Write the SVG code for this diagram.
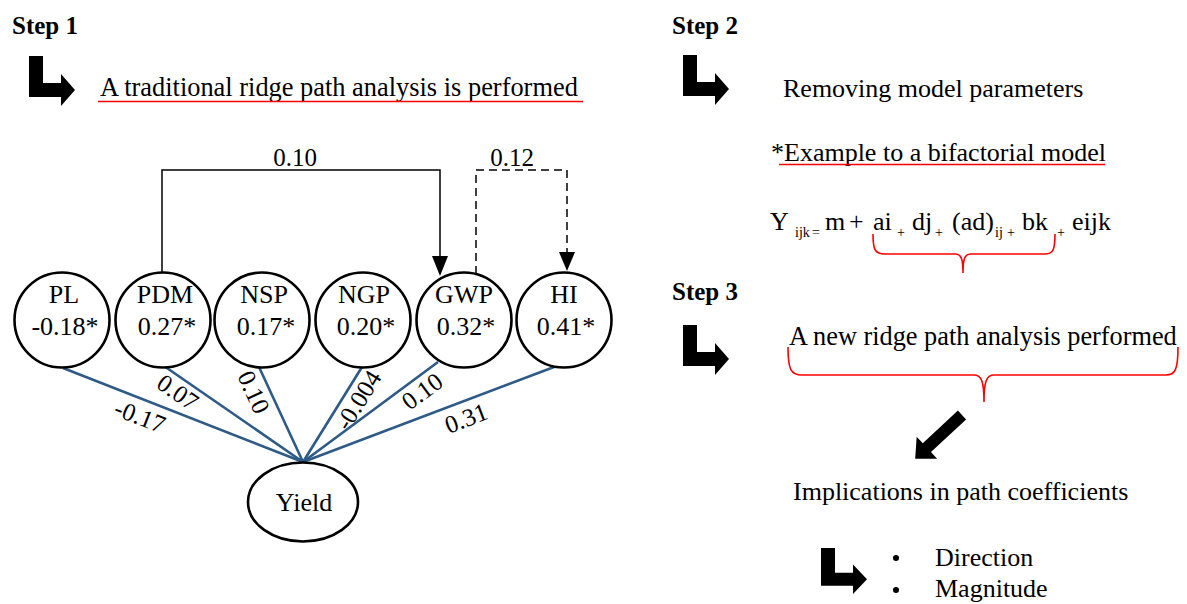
<svg xmlns="http://www.w3.org/2000/svg" width="1187" height="604" viewBox="0 0 1187 604">
<style>
text{font-family:'Liberation Serif','Times New Roman',serif;fill:#000}
.t{font-size:26px}
.step{font-size:25px;font-weight:bold}
.node{fill:#fff;stroke:#000;stroke-width:2.6}
.nt{font-size:26px;text-anchor:middle}
.el{font-size:25px;text-anchor:middle}
.blue{stroke:#2D5A87;stroke-width:2.6;fill:none}
.red{stroke:#FF0000;stroke-width:1.6;fill:none}
.sub{font-size:14px}
.big{fill:#000}
</style>
<defs>
<path id="bent" d="M0,0 H14 V27 H32 V18 L46,34 L32,50 V41 H0 Z"/>
</defs>
<g font-family="Liberation Serif, serif">
<text class="step" x="12" y="34">Step 1</text>
<use href="#bent" class="big" transform="translate(29,56)"/>
<text class="t" x="100" y="96" style="font-size:26.4px">A traditional ridge path analysis is performed</text>
<line class="red" x1="98" y1="101.5" x2="583" y2="101.5"/>

<text class="step" x="672" y="34">Step 2</text>
<use href="#bent" class="big" transform="translate(683,55)"/>
<text class="t" x="783" y="97">Removing model parameters</text>
<text class="t" x="771" y="161">*Example to a bifactorial model</text>
<line class="red" x1="779" y1="164.5" x2="1105" y2="164.5"/>

<g id="equation">
<text class="t" x="770" y="230">Y</text>
<text class="sub" x="795" y="237">ijk</text>
<text class="sub" x="812" y="237">=</text>
<text class="t" x="825" y="230">m</text>
<text class="t" x="849" y="230">+</text>
<text class="t" x="873" y="230">ai</text>
<text class="sub" x="897" y="237">+</text>
<text class="t" x="912" y="230">dj</text>
<text class="sub" x="935" y="237">+</text>
<text class="t" x="952" y="230">(ad)</text>
<text class="sub" x="995" y="237">ij</text>
<text class="sub" x="1007" y="237">+</text>
<text class="t" x="1022" y="230">bk</text>
<text class="sub" x="1057" y="237">+</text>
<text class="t" x="1072" y="230">eijk</text>
<path class="red" d="M873,234 C873,250 875,254 885,254 H955 C961,254 963,258 963,273 C963,258 965,254 971,254 H1045 C1053,254 1055,250 1055,234"/>
</g>

<text class="step" x="672" y="300">Step 3</text>
<use href="#bent" class="big" transform="translate(683,325)"/>
<text class="t" x="789" y="345" style="font-size:26.3px">A new ridge path analysis performed</text>
<path class="red" d="M788,347 C788,370 791,375 802,375 H974 C981,375 984,380 984,402 C984,380 987,375 994,375 H1166 C1175,375 1178,370 1178,347"/>
<path class="big" d="M0,-6 H48 V-15 L64,0 L48,15 V6 H0 Z" transform="translate(962,415) rotate(137)"/>
<text class="t" x="793" y="500">Implications in path coefficients</text>
<use href="#bent" class="big" transform="translate(821,548) scale(1,0.92)"/>
<circle cx="896" cy="558" r="3"/>
<circle cx="896" cy="590" r="3"/>
<text class="t" x="935" y="566">Direction</text>
<text class="t" x="935" y="597">Magnitude</text>

<g id="connectors">
<line class="blue" x1="63" y1="368" x2="303" y2="462"/>
<line class="blue" x1="164" y1="366" x2="303" y2="462"/>
<line class="blue" x1="259" y1="367" x2="303" y2="462"/>
<line class="blue" x1="362" y1="367" x2="303" y2="462"/>
<line class="blue" x1="438" y1="362" x2="303" y2="462"/>
<line class="blue" x1="562" y1="364" x2="303" y2="462"/>
<path d="M162,273 V170 H440 V258" fill="none" stroke="#000" stroke-width="1.5"/>
<polygon points="432,256 448,256 440,276"/>
<path d="M476,274 V170 H567 V254" fill="none" stroke="#000" stroke-width="1.5" stroke-dasharray="8,5"/>
<polygon points="559,252 575,252 567,271"/>
<text class="el" x="295" y="166">0.10</text>
<text class="el" x="512" y="166">0.12</text>
<text class="el" transform="translate(140,416) rotate(21.4)" dy="0.35em">-0.17</text>
<text class="el" transform="translate(178,392) rotate(34.6)" dy="0.35em">0.07</text>
<text class="el" transform="translate(254,392) rotate(65.2)" dy="0.35em">0.10</text>
<text class="el" transform="translate(358,400) rotate(-58.2)" dy="0.35em">-0.004</text>
<text class="el" transform="translate(422,391) rotate(-36.5)" dy="0.35em">0.10</text>
<text class="el" transform="translate(466,418) rotate(-20.7)" dy="0.35em">0.31</text>
</g>

<g id="PL"><circle class="node" cx="62" cy="320" r="47.5"/><text class="nt" x="64" y="303">PL</text><text class="nt" x="65" y="335">-0.18*</text></g>
<g id="PDM"><circle class="node" cx="163" cy="320" r="47.5"/><text class="nt" x="165" y="303">PDM</text><text class="nt" x="167" y="335">0.27*</text></g>
<g id="NSP"><circle class="node" cx="262" cy="320" r="47.5"/><text class="nt" x="264" y="303">NSP</text><text class="nt" x="266" y="335">0.17*</text></g>
<g id="NGP"><circle class="node" cx="363" cy="320" r="47.5"/><text class="nt" x="364" y="303">NGP</text><text class="nt" x="366" y="335">0.20*</text></g>
<g id="GWP"><circle class="node" cx="464" cy="320" r="47.5"/><text class="nt" x="464" y="303">GWP</text><text class="nt" x="466" y="335">0.32*</text></g>
<g id="HI"><circle class="node" cx="564" cy="320" r="47.5"/><text class="nt" x="564" y="303">HI</text><text class="nt" x="566" y="335">0.41*</text></g>
<g id="Yield"><ellipse class="node" cx="303" cy="502" rx="55" ry="39.5"/><text class="nt" x="304" y="511">Yield</text></g>
</g>
</svg>
